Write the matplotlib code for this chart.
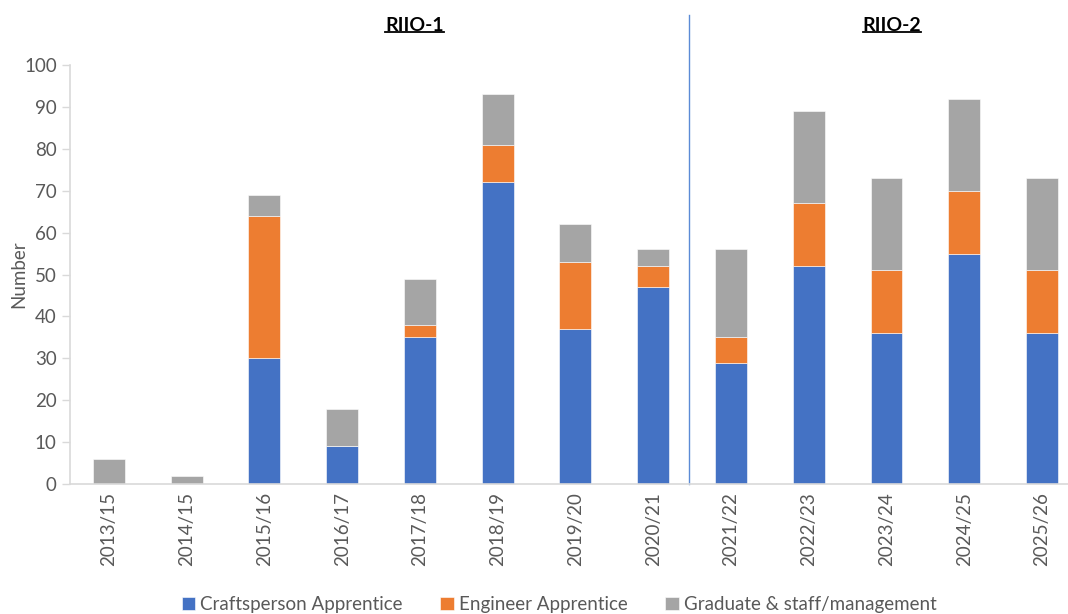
import matplotlib.pyplot as plt
import numpy as np

years = ["2013/15", "2014/15", "2015/16", "2016/17", "2017/18", "2018/19", "2019/20",
         "2020/21", "2021/22", "2022/23", "2023/24", "2024/25", "2025/26"]
craftsperson = [0, 0, 30, 9, 35, 72, 37, 47, 29, 52, 36, 55, 36]
engineer = [0, 0, 34, 0, 3, 9, 16, 5, 6, 15, 15, 15, 15]
graduate = [6, 2, 5, 9, 11, 12, 9, 4, 21, 22, 22, 22, 22]

plt.rcParams["font.family"] = ["Lato", "DejaVu Sans"]
fig = plt.figure(figsize=(10.68, 6.14), dpi=100)
ax = fig.add_axes([0.0655, 0.2117, 0.9466, 0.6824])

x = np.arange(len(years))
w = 0.41
c = np.array(craftsperson)
e = np.array(engineer)
g = np.array(graduate)
ax.bar(x, c, w, color="#4472C4", label="Craftsperson Apprentice", edgecolor="white", linewidth=0.4)
ax.bar(x, e, w, bottom=c, color="#ED7D31", label="Engineer Apprentice", edgecolor="white", linewidth=0.4)
ax.bar(x, g, w, bottom=c + e, color="#A5A5A5", label="Graduate & staff/management", edgecolor="white", linewidth=0.4)

ax.set_xlim(-0.5, len(years) - 0.5)
ax.set_ylim(0, 100)
ax.set_yticks(range(0, 101, 10))
ax.set_xticks(x)
ax.set_xticklabels(years, rotation=90)
ax.tick_params(axis="y", colors="#D9D9D9", labelcolor="#595959", labelsize=13.5, length=6, width=1)
ax.tick_params(axis="x", length=0, labelcolor="#595959", labelsize=13.5, pad=6)
for s in ["top", "right"]:
    ax.spines[s].set_visible(False)
ax.spines["left"].set_color("#D9D9D9")
ax.spines["bottom"].set_color("#D9D9D9")
ax.spines["left"].set_linewidth(1.2)
ax.spines["bottom"].set_linewidth(1.2)
ax.set_ylabel("Number", fontsize=13.5, color="#595959", va="center")
ax.yaxis.set_label_coords(-0.051, 0.5)

# divider between RIIO-1 and RIIO-2
ax.plot([7.46, 7.46], [0, 112], color="#5B8BD6", linewidth=1, clip_on=False)

labels = []
for xpos, txt in [(3.93, "RIIO-1"), (10.07, "RIIO-2")]:
    t = ax.text(xpos, 109.5, txt, ha="center", va="center", fontsize=14,
                fontweight="bold", color="black", clip_on=False)
    labels.append(t)

fig.canvas.draw()
r = fig.canvas.get_renderer()
inv = fig.transFigure.inverted()
for t in labels:
    bb = t.get_window_extent(r)
    (x0, y0), (x1, y1) = inv.transform([(bb.x0, bb.y0), (bb.x1, bb.y1)])
    fig.add_artist(plt.Line2D([x0, x1], [y0 + 0.002, y0 + 0.002], color="black",
                              linewidth=1.3, transform=fig.transFigure))

ax.legend(loc="center", bbox_to_anchor=(0.484, -0.287), ncol=3, frameon=False,
          fontsize=13.5, handlelength=0.7, handleheight=0.7, handletextpad=0.3,
          columnspacing=2.0, labelcolor="#595959")

fig.savefig("out.png", dpi=100)
